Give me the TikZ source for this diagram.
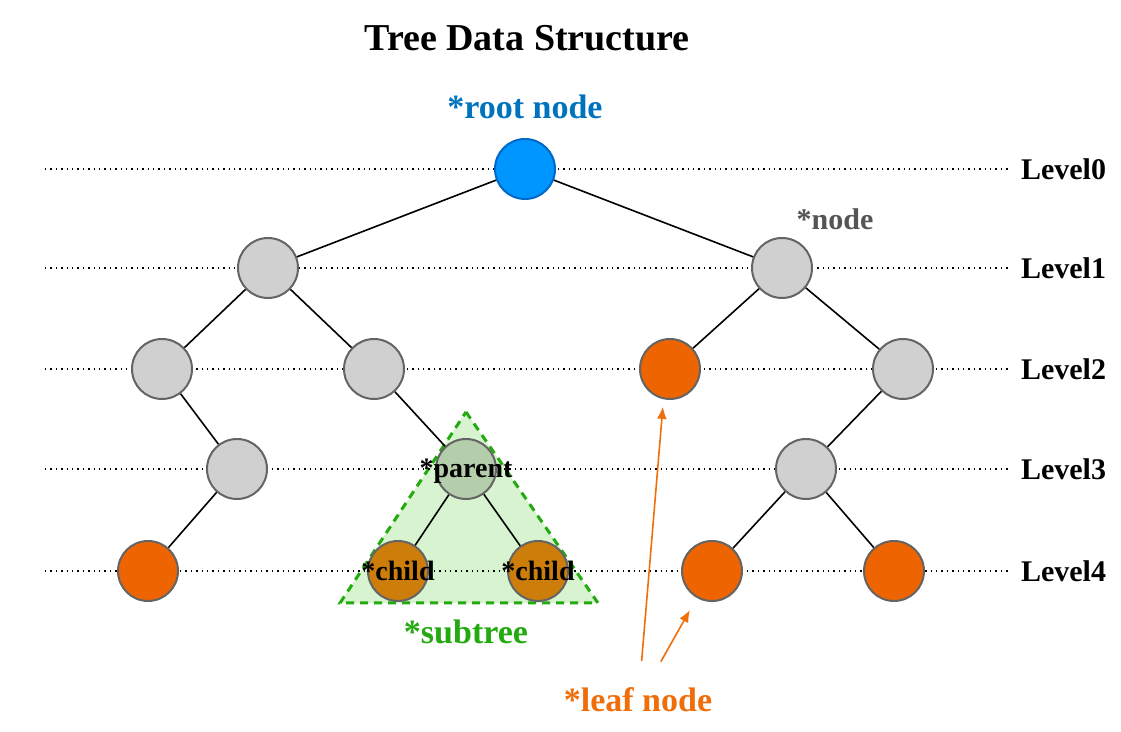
\documentclass[tikz,border=0pt]{standalone}
\usepackage{fontspec}
\setmainfont{Liberation Serif}
\usetikzlibrary{positioning, calc, arrows.meta}
\definecolor{rootblue}{RGB}{0,150,255}
\definecolor{rootedge}{RGB}{0,105,200}
\definecolor{rootlbl}{RGB}{0,115,190}
\definecolor{nodegray}{RGB}{208,208,208}
\definecolor{nodeedge}{RGB}{100,100,100}
\definecolor{nodetext}{RGB}{85,85,85}
\definecolor{leaforange}{RGB}{238,100,0}
\definecolor{parentfill}{RGB}{180,205,170}
\definecolor{childfill}{RGB}{205,125,10}
\definecolor{subfill}{RGB}{215,243,208}
\definecolor{subgreen}{RGB}{35,170,15}
\definecolor{leaflbl}{RGB}{240,110,10}

\tikzset{
  treenode/.style={circle, draw=nodeedge, line width=1pt, minimum size=30pt, inner sep=0pt, fill=nodegray},
  leafnode/.style={treenode, fill=leaforange},
  levelline/.style={dotted, line width=0.7pt, shorten >=2pt},
  branch/.style={line width=0.8pt},
  levellabel/.style={anchor=west, font=\fontsize{15}{18}\selectfont\bfseries},
  tag/.style={font=\fontsize{14}{16}\selectfont\bfseries},
  bigtag/.style={font=\fontsize{17}{20}\selectfont\bfseries},
  subtri/.style={draw=subgreen, fill=subfill, line width=1.5pt, dash pattern=on 4pt off 3pt},
  leafarrow/.style={leaflbl, line width=0.8pt, -{Latex[length=6pt,width=5pt]}}
}

\begin{document}
\begin{tikzpicture}[x=0.5pt,y=-0.5pt]
\useasboundingbox (0,0) rectangle (1121,732);

% title
\node[font=\fontsize{19}{22}\selectfont\bfseries] (title) at (527,38) {Tree Data Structure};

% subtree triangle
\coordinate (subtop) at (466,412);
\coordinate (subleft) at (340,603);
\coordinate (subright) at (598,603);
\draw[subtri] (subtop) -- (subright) -- (subleft) -- cycle;

% levels
\node[levellabel] (lv0) at (1014,169) {Level0};
\node[levellabel] (lv1) at (1014,268) {Level1};
\node[levellabel] (lv2) at (1014,369) {Level2};
\node[levellabel] (lv3) at (1014,469) {Level3};
\node[levellabel] (lv4) at (1014,571) {Level4};
\coordinate (l0) at (45,169);
\coordinate (l1) at (45,268);
\coordinate (l2) at (45,369);
\coordinate (l3) at (45,469);
\coordinate (l4) at (45,571);
\draw[levelline] (l0) -- (lv0.west);
\draw[levelline] (l1) -- (lv1.west);
\draw[levelline] (l2) -- (lv2.west);
\draw[levelline] (l3) -- (lv3.west);
\draw[levelline] (l4) -- (lv4.west);

% nodes
\node[treenode, fill=rootblue, draw=rootedge] (root) at (525,169) {};
\node[treenode] (n1a) at (268,268) {};
\node[treenode] (n1b) at (782,268) {};
\node[treenode] (n2a) at (162,369) {};
\node[treenode] (n2b) at (374,369) {};
\node[leafnode] (n2c) at (670,369) {};
\node[treenode] (n2d) at (903,369) {};
\node[treenode] (n3a) at (237,469) {};
\node[treenode, fill=parentfill, label={[tag, yshift=-1pt]center:*parent}] (parent) at (466,469) {};
\node[treenode] (n3c) at (806,469) {};
\node[leafnode] (n4a) at (148,571) {};
\node[leafnode, fill=childfill, label={[tag]center:*child}] (childa) at (398,571) {};
\node[leafnode, fill=childfill, label={[tag]center:*child}] (childb) at (538,571) {};
\node[leafnode] (n4d) at (712,571) {};
\node[leafnode] (n4e) at (894,571) {};

% branches
\draw[branch] (root) -- (n1a);
\draw[branch] (root) -- (n1b);
\draw[branch] (n1a) -- (n2a);
\draw[branch] (n1a) -- (n2b);
\draw[branch] (n1b) -- (n2c);
\draw[branch] (n1b) -- (n2d);
\draw[branch] (n2a) -- (n3a);
\draw[branch] (n2b) -- (parent);
\draw[branch] (n2d) -- (n3c);
\draw[branch] (n3a) -- (n4a);
\draw[branch] (parent) -- (childa);
\draw[branch] (parent) -- (childb);
\draw[branch] (n3c) -- (n4d);
\draw[branch] (n3c) -- (n4e);

% labels
\node[bigtag, text=rootlbl, above=6pt of root] (rootname) {*root node};
\node[tag, text=nodetext, font=\fontsize{15}{18}\selectfont\bfseries] (nodename) at (835,219) {*node};
\node[bigtag, text=subgreen] (subname) at (466,632) {*subtree};
\node[bigtag, text=leaflbl] (leafname) at (638,700) {*leaf node};

\draw[leafarrow, shorten <=10pt, shorten >=19pt] ([xshift=1pt]leafname.north) -- ([xshift=-2pt]n2c.center);
\draw[leafarrow, shorten <=11pt, shorten >=7pt] ([xshift=6pt]leafname.north) -- (n4d);
\end{tikzpicture}
\end{document}
